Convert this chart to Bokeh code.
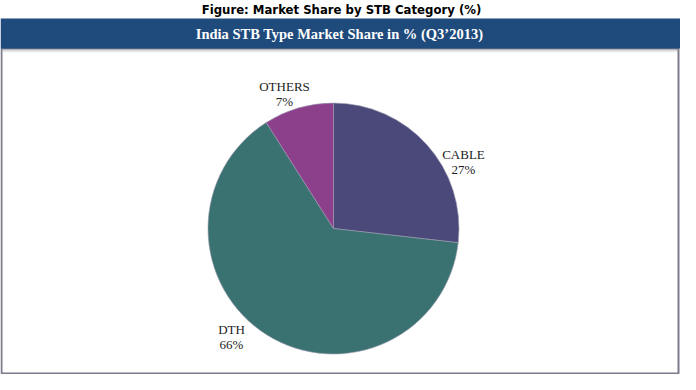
import math
from bokeh.plotting import figure
from bokeh.models import ColumnDataSource, Range1d
from bokeh.core.properties import value
from bokeh.embed import file_html
from bokeh.resources import INLINE

# ---- data ----
categories = ["CABLE", "DTH", "OTHERS"]
shares = [26.8, 64.2, 9.0]            # slice sizes as drawn
share_labels = ["27%", "66%", "7%"]   # printed labels
colors = ["#4a4979", "#3a7171", "#8c408c"]

fig_title = "Figure: Market Share by STB Category (%)"
chart_title = "India STB Type Market Share in % (Q3\u20192013)"

W, H = 680, 374
p = figure(width=W, height=H, output_backend="svg", toolbar_location=None,
           x_range=Range1d(0, W), y_range=Range1d(0, H), min_border=0)
p.axis.visible = False
p.grid.visible = False
p.outline_line_color = None
p.background_fill_color = "white"
p.border_fill_color = "white"

# frame box
p.quad(left=[1], right=[W - 2], bottom=[1], top=[326], fill_color="white",
       line_color="#7b7b8a", line_width=2)
# header band
p.quad(left=[0], right=[W], bottom=[326], top=[356], fill_color="#1f4a7c",
       line_color=None)
# shadow under header
for i, a in enumerate([0.45, 0.25, 0.12]):
    p.quad(left=[2], right=[W - 3], bottom=[325 - i - 1], top=[325 - i],
           fill_color="#8a8a9a", fill_alpha=a, line_color=None)

p.text(x=[W / 2 + 1], y=[365], text=[fig_title], text_align="center",
       text_baseline="middle", text_font=value("DejaVu Sans Condensed"),
       text_font_style="bold", text_font_size="13px", text_color="black")
p.text(x=[W / 2 - 1], y=[340.5], text=[chart_title], text_align="center",
       text_baseline="middle", text_font=value("Liberation Serif"),
       text_font_style="bold", text_font_size="14.5px", text_color="white")

# pie
cx, cy, r = 333, 146, 125.5
starts, ends = [], []
a = math.pi / 2
for v in shares:
    e = a - v / 100 * 2 * math.pi
    starts.append(e)
    ends.append(a)
    a = e
src = ColumnDataSource(dict(cat=categories, start=starts, end=ends, color=colors))
p.wedge(x=cx, y=cy, radius=r, start_angle="start", end_angle="end",
        direction="anticlock", fill_color="color", line_color="#9a9ab0",
        line_width=0.6, source=src)

# labels (positions are layout)
label_pos = {"CABLE": (463, 220), "DTH": (231, 45), "OTHERS": (284, 288)}
lx = [label_pos[c][0] for c in categories]
ly = [label_pos[c][1] for c in categories]
p.text(x=lx, y=ly, text=categories, text_align="center", text_baseline="middle",
       text_font=value("Liberation Serif"), text_font_size="13px",
       text_color="#222222")
p.text(x=lx, y=[v - 15 for v in ly], text=share_labels, text_align="center",
       text_baseline="middle", text_font=value("Liberation Serif"),
       text_font_size="13px", text_color="#222222")

open("out.html", "w").write(file_html(p, INLINE))
